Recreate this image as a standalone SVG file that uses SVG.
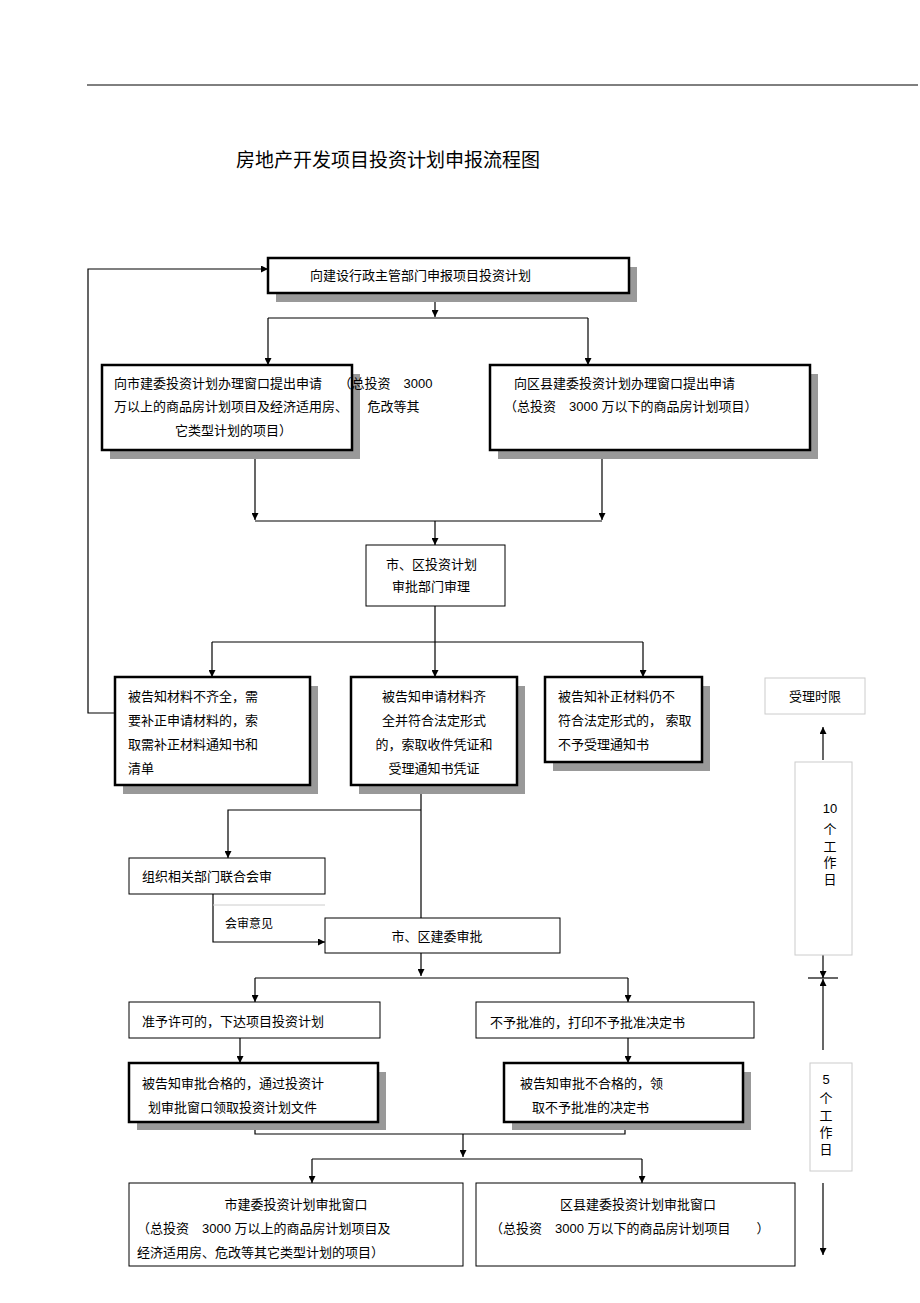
<svg xmlns="http://www.w3.org/2000/svg" width="920" height="1303" viewBox="0 0 920 1303">
<defs>
<marker id="a" viewBox="0 0 10 10" refX="10" refY="5" markerWidth="7" markerHeight="7" markerUnits="userSpaceOnUse" orient="auto"><path d="M0,0L10,5L0,10z" fill="#000"/></marker>
<style>
text{font-family:"Liberation Sans","Noto Sans CJK SC",sans-serif;font-size:13px;fill:#000}
.t{fill:#fff;stroke:#000;stroke-width:2.5}
.n{fill:#fff;stroke:#000;stroke-width:1}
.l{fill:#fff;stroke:#ccc;stroke-width:1}
.s{fill:#999}
.c{fill:none;stroke:#000;stroke-width:1.2}
.ca{fill:none;stroke:#000;stroke-width:1.2;marker-end:url(#a)}
.m{text-anchor:middle}
</style>
</defs>
<rect width="920" height="1303" fill="#fff"/>
<line x1="87" y1="85" x2="918" y2="85" stroke="#000" stroke-width="1"/>
<text x="236" y="167" style="font-size:19px">房地产开发项目投资计划申报流程图</text>

<g id="connectors">
<path class="ca" d="M115,713H88V269H268"/>
<path class="ca" d="M435,293V317"/>
<path class="c" d="M268,318H588"/>
<path class="ca" d="M268,318V365"/>
<path class="ca" d="M588,318V365"/>
<path class="ca" d="M255,450V520"/>
<path class="ca" d="M602,450V520"/>
<path class="c" d="M255,521H602"/>
<path class="ca" d="M435,521V545"/>
<path class="c" d="M435,606V642"/>
<path class="c" d="M212,642H643"/>
<path class="ca" d="M212,642V677"/>
<path class="ca" d="M435,642V677"/>
<path class="ca" d="M643,642V677"/>
<path class="c" d="M421,785V918"/>
<path class="ca" d="M421,810H228V858"/>
<path class="ca" d="M213,894V942H325"/>
<path class="ca" d="M421,953V976"/>
<path class="c" d="M255,978H628"/>
<path class="ca" d="M255,978V1002"/>
<path class="ca" d="M628,978V1002"/>
<path class="ca" d="M240,1038V1063"/>
<path class="ca" d="M628,1038V1063"/>
<path class="c" d="M255,1122V1134H625V1122"/>
<path class="ca" d="M463,1134V1157"/>
<path class="c" d="M312,1159H642"/>
<path class="ca" d="M312,1159V1183"/>
<path class="ca" d="M642,1159V1183"/>
<path class="ca" d="M823,760V727"/>
<path class="ca" d="M823,955V978"/>
<path class="c" d="M808,978H838"/>
<path class="ca" d="M823,1050V979"/>
<path class="ca" d="M823,1183V1255"/>
</g>

<g id="n1"><rect class="s" x="276" y="267" width="361" height="35"/><rect class="t" x="268" y="258" width="361" height="35"/><text x="310" y="280">向建设行政主管部门申报项目投资计划</text></g>
<g id="n2"><rect class="s" x="110" y="374" width="250" height="85"/><rect class="t" x="102" y="365" width="250" height="85"/>
<text x="114" y="388">向市建委投资计划办理窗口提出申请　 （总投资　3000</text><text x="114" y="411">万以上的商品房计划项目及经济适用房、　　危改等其</text><text x="175" y="435">它类型计划的项目）</text></g>
<g id="n3"><rect class="s" x="498" y="374" width="320" height="85"/><rect class="t" x="490" y="365" width="320" height="85"/>
<text x="514" y="388">向区县建委投资计划办理窗口提出申请</text><text x="504" y="411">（总投资　3000 万以下的商品房计划项目）</text></g>
<g id="n4"><rect class="n" x="366" y="545" width="139" height="61"/><text x="386" y="569">市、区投资计划</text><text x="392" y="591">审批部门审理</text></g>
<g id="n5"><rect class="s" x="123" y="686" width="195" height="108"/><rect class="t" x="115" y="677" width="195" height="108"/>
<text x="128" y="701">被告知材料不齐全，需</text><text x="128" y="725">要补正申请材料的，索</text><text x="128" y="749">取需补正材料通知书和</text><text x="128" y="773">清单</text></g>
<g id="n6"><rect class="s" x="359" y="686" width="166" height="108"/><rect class="t" x="351" y="677" width="166" height="108"/>
<text x="434" y="701" class="m">被告知申请材料齐</text><text x="434" y="725" class="m">全并符合法定形式</text><text x="434" y="749" class="m">的，索取收件凭证和</text><text x="434" y="773" class="m">受理通知书凭证</text></g>
<g id="n7"><rect class="s" x="553" y="686" width="157" height="85"/><rect class="t" x="545" y="677" width="157" height="85"/>
<text x="558" y="701">被告知补正材料仍不</text><text x="558" y="725">符合法定形式的，  索取</text><text x="558" y="749">不予受理通知书</text></g>
<g id="n8"><rect class="l" x="765" y="678" width="100" height="36"/><text x="815" y="701" class="m">受理时限</text></g>
<g id="n9"><rect class="n" x="129" y="858" width="196" height="36"/><text x="142" y="881">组织相关部门联合会审</text></g>
<g id="n10"><path d="M213,905H325" stroke="#ccc" fill="none"/><text x="225" y="928" style="font-size:12px">会审意见</text></g>
<g id="n11"><rect class="n" x="325" y="918" width="235" height="35"/><text x="437" y="941" class="m">市、区建委审批</text></g>
<g id="n12"><rect class="l" x="795" y="762" width="57" height="193"/><text class="m" x="830" y="813">10</text><text class="m" x="830" y="834">个</text><text class="m" x="830" y="851">工</text><text class="m" x="830" y="867">作</text><text class="m" x="830" y="884">日</text></g>
<g id="n13"><rect class="n" x="129" y="1002" width="251" height="36"/><text x="142" y="1026">准予许可的，下达项目投资计划</text></g>
<g id="n14"><rect class="n" x="476" y="1002" width="278" height="36"/><text x="490" y="1027">不予批准的，打印不予批准决定书</text></g>
<g id="n15"><rect class="s" x="137" y="1072" width="249" height="58"/><rect class="t" x="129" y="1063" width="249" height="59"/>
<text x="142" y="1088">被告知审批合格的，通过投资计</text><text x="148" y="1112">划审批窗口领取投资计划文件</text></g>
<g id="n16"><rect class="s" x="512" y="1072" width="239" height="58"/><rect class="t" x="504" y="1063" width="239" height="59"/>
<text x="520" y="1088">被告知审批不合格的，领</text><text x="532" y="1112">取不予批准的决定书</text></g>
<g id="n17"><rect class="l" x="810" y="1063" width="42" height="108"/><text class="m" x="826" y="1084">5</text><text class="m" x="826" y="1103">个</text><text class="m" x="826" y="1120">工</text><text class="m" x="826" y="1137">作</text><text class="m" x="826" y="1154">日</text></g>
<g id="n18"><rect class="n" x="129" y="1183" width="334" height="83"/>
<text x="296" y="1209" class="m">市建委投资计划审批窗口</text><text x="137" y="1233">（总投资　3000 万以上的商品房计划项目及</text><text x="137" y="1257">经济适用房、危改等其它类型计划的项目）</text></g>
<g id="n19"><rect class="n" x="476" y="1183" width="319" height="83"/>
<text x="638" y="1209" class="m">区县建委投资计划审批窗口</text><text x="490" y="1233">（总投资　3000 万以下的商品房计划项目　　）</text></g>
</svg>
